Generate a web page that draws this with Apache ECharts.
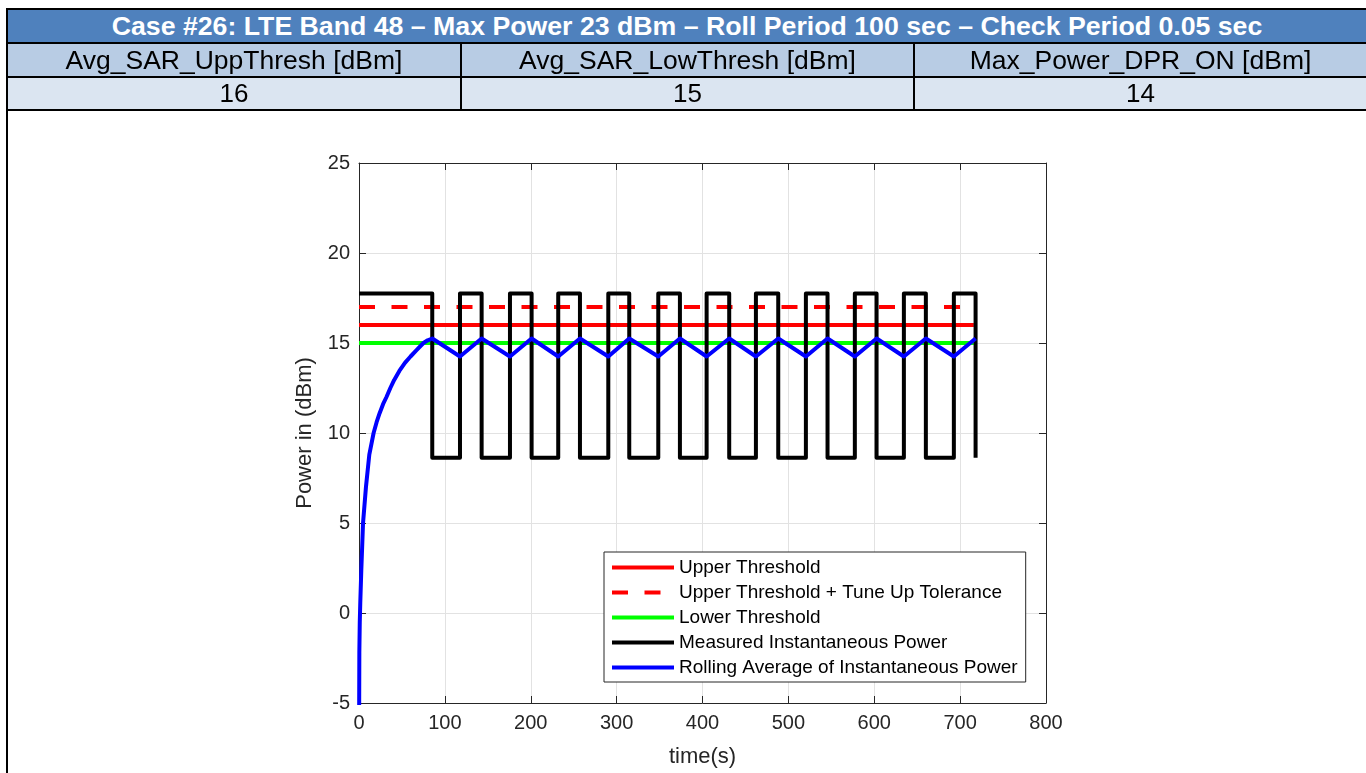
<!DOCTYPE html>
<html>
<head>
<meta charset="utf-8">
<script src="https://cdn.jsdelivr.net/npm/echarts@6/dist/echarts.min.js"></script>
<style>
html,body{margin:0;padding:0;background:#fff;width:1366px;height:773px;overflow:hidden;font-family:"Liberation Sans",Arial,sans-serif;}
#chart{position:absolute;left:0;top:0;width:1366px;height:773px;}
.b{position:absolute;background:#000;}
.cell{position:absolute;text-align:center;white-space:nowrap;color:#000;}
</style>
</head>
<body>
<div id="chart"></div>
<div id="tbl"></div>
<script>
// ---------- data ----------
const titleText = "Case #26: LTE Band 48 \u2013 Max Power 23 dBm \u2013 Roll Period 100 sec \u2013 Check Period 0.05 sec";
const paramNames = ["Avg_SAR_UppThresh [dBm]", "Avg_SAR_LowThresh [dBm]", "Max_Power_DPR_ON [dBm]"];
const paramValues = ["16", "15", "14"];

const xTickMin = 0, xTickMax = 800, xTickStep = 100;
const yTickMin = -5, yTickMax = 25, yTickStep = 5;

const seriesNames = [
  "Upper Threshold",
  "Upper Threshold + Tune Up Tolerance",
  "Lower Threshold",
  "Measured Instantaneous Power",
  "Rolling Average of Instantaneous Power"
];

// threshold levels (dBm) and time span (s)
const thresholdSpan = [0, 716];
const upperThreshold = 16;
const upperTolerance = 17;
const lowerThreshold = 15;

// measured instantaneous power: switching times (s), alternating high->low, low->high ...
const instEdgeTimes = [85.3, 117.6, 142.8, 175.8, 201.0, 232.0, 257.3, 290.3, 314.7, 348.5, 373.7,
  404.8, 431.1, 462.2, 488.2, 520.4, 545.6, 577.4, 602.7, 634.5, 660.1, 692.7, 718.0];
const instLevels = [17.75, 8.63]; // high, low

// rolling average: initial ramp
const avgRampTime  = [0.15, 0.4, 0.9, 1.5, 2.7, 4.7, 8.1, 12.0, 17.0, 20.5, 24.0, 28.0, 32.0, 36.5, 41.0, 47.0, 53.5, 60.0, 67.0, 75.0, 80.0];
const avgRampPower = [-6.0, -2.2, -0.5, 0.6, 2.4, 5.0, 7.0, 8.8, 10.0, 10.6, 11.1, 11.6, 12.0, 12.5, 12.95, 13.45, 13.9, 14.25, 14.6, 15.0, 15.15];
const avgPeakTrough = [15.25, 14.25]; // value at falling edges, at rising edges

// ---------- table (HTML) ----------
(function(){
  const t = document.getElementById('tbl');
  function box(l, tp, w, h, bg){ const d=document.createElement('div'); d.className='b'; d.style.left=l+'px'; d.style.top=tp+'px'; d.style.width=w+'px'; d.style.height=h+'px'; if(bg) d.style.background=bg; t.appendChild(d); return d; }
  function cell(l, tp, w, h, txt, css){ const d=document.createElement('div'); d.className='cell'; d.style.left=l+'px'; d.style.top=tp+'px'; d.style.width=w+'px'; d.style.height=h+'px'; d.style.lineHeight=h+'px'; Object.assign(d.style, css||{}); d.textContent=txt; t.appendChild(d); }
  // backgrounds
  box(8, 10, 1360, 32, '#4f81bd');
  box(8, 44, 1360, 32, '#b8cce4');
  box(8, 78, 1360, 31, '#dbe5f1');
  // borders
  box(6, 8, 1362, 2); box(6, 42, 1362, 2); box(6, 76, 1362, 2); box(6, 109, 1362, 2);
  box(6, 8, 2, 765);
  box(460, 42, 2, 69); box(913, 42, 2, 69);
  cell(8, 10, 1358, 33, titleText, {color:'#fff', fontWeight:'bold', fontSize:'26.7px'});
  const cols = [[8,452],[462,451],[915,451]];
  cols.forEach((c,i)=>{
    cell(c[0], 44, c[1], 32, paramNames[i], {fontSize:'26.5px'});
    cell(c[0], 78, c[1], 31, paramValues[i], {fontSize:'26px'});
  });
})();

// ---------- series construction ----------
const instData = [[0, instLevels[0]]];
let lvl = 0;
instEdgeTimes.forEach(t => { instData.push([t, instLevels[lvl]]); lvl = 1 - lvl; instData.push([t, instLevels[lvl]]); });

const avgData = avgRampTime.map((t, i) => [t, avgRampPower[i]]);
instEdgeTimes.forEach((t, i) => avgData.push([t, avgPeakTrough[i % 2]]));

const thr = v => thresholdSpan.map(t => [t, v]);

const FONT = '"Liberation Sans", Arial, sans-serif';
const AX = '#262626';

function lineSeries(name, data, color, type){
  return {
    name, type: 'line', data, showSymbol: false, symbol: 'none', animation: false,
    lineStyle: {color, width: 4, type: type || 'solid', cap: 'butt', join: 'round'},
    itemStyle: {color}, emphasis: {disabled: true}, silent: true
  };
}

const chart = echarts.init(document.getElementById('chart'), null, {renderer: 'canvas'});
const option = {
  animation: false,
  backgroundColor: '#fff',
  textStyle: {fontFamily: FONT},
  grid: {left: 359, top: 163, width: 687, height: 541, containLabel: false},
  xAxis: [{
    type: 'value', min: xTickMin, max: xTickMax, interval: xTickStep, position: 'bottom',
    name: 'time(s)', nameLocation: 'middle', nameGap: 43,
    nameTextStyle: {fontSize: 22, color: AX, fontFamily: FONT},
    axisLine: {show: true, onZero: false, lineStyle: {color: AX, width: 1}},
    axisTick: {show: true, inside: true, length: 7, lineStyle: {color: AX, width: 1}},
    axisLabel: {fontSize: 20, color: AX, margin: 10, fontFamily: FONT},
    splitLine: {show: true, lineStyle: {color: '#e2e2e2', width: 1}}
  }, {
    type: 'value', min: xTickMin, max: xTickMax, interval: xTickStep, position: 'top',
    axisLine: {show: true, onZero: false, lineStyle: {color: AX, width: 1}},
    axisTick: {show: true, inside: true, length: 7, lineStyle: {color: AX, width: 1}},
    axisLabel: {show: false}, splitLine: {show: false}
  }],
  yAxis: [{
    type: 'value', min: yTickMin, max: yTickMax, interval: yTickStep, position: 'left',
    name: 'Power in (dBm)', nameLocation: 'middle', nameGap: 43, nameRotate: 90,
    nameTextStyle: {fontSize: 22, color: AX, fontFamily: FONT},
    axisLine: {show: true, onZero: false, lineStyle: {color: AX, width: 1}},
    axisTick: {show: true, inside: true, length: 7, lineStyle: {color: AX, width: 1}},
    axisLabel: {fontSize: 20, color: AX, margin: 9, fontFamily: FONT},
    splitLine: {show: true, lineStyle: {color: '#e2e2e2', width: 1}}
  }, {
    type: 'value', min: yTickMin, max: yTickMax, interval: yTickStep, position: 'right',
    axisLine: {show: true, onZero: false, lineStyle: {color: AX, width: 1}},
    axisTick: {show: true, inside: true, length: 7, lineStyle: {color: AX, width: 1}},
    axisLabel: {show: false}, splitLine: {show: false}
  }],
  legend: {
    show: true, orient: 'vertical', left: 604, top: 552,
    padding: [6, 8, 5, 6], itemWidth: 62, itemHeight: 18, itemGap: 6,
    backgroundColor: '#fff', borderColor: AX, borderWidth: 1, borderRadius: 0,
    selectedMode: false,
    itemStyle: {color: 'rgba(0,0,0,0)', borderWidth: 0, opacity: 0},
    lineStyle: {width: 4},
    textStyle: {fontSize: 19, color: '#000', fontFamily: FONT, lineHeight: 19},
    data: seriesNames
  },
  series: [
    lineSeries(seriesNames[0], thr(upperThreshold), '#ff0000'),
    lineSeries(seriesNames[1], thr(upperTolerance), '#ff0000', [16, 16.5]),
    lineSeries(seriesNames[2], thr(lowerThreshold), '#00ff00'),
    lineSeries(seriesNames[3], instData, '#000000'),
    lineSeries(seriesNames[4], avgData, '#0000ff')
  ]
};
chart.setOption(option);
</script>
</body>
</html>
